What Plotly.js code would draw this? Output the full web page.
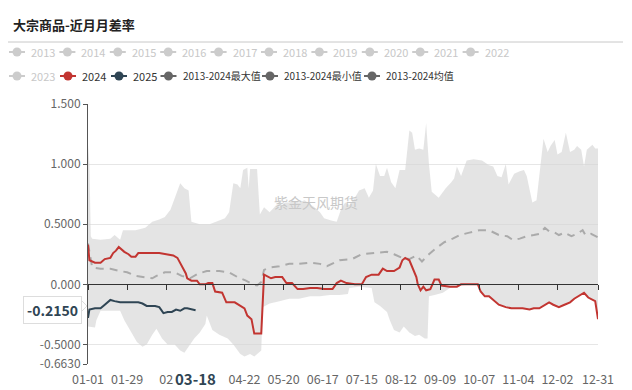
<!DOCTYPE html>
<html><head><meta charset="utf-8">
<script src="https://cdn.plot.ly/plotly-3.0.1.min.js"></script>
<style>html,body{margin:0;padding:0;background:#fff}#chart{width:632px;height:390px}</style>
</head><body><div id="chart"></div>
<script>
// ---------------- data ----------------
const YEAR = '2024-';
const maxDates = ['01-01','01-02','01-03','01-04','01-10','01-17','01-20','01-24','01-26','02-04','02-11','02-16','02-21','02-25','02-29','03-03','03-07','03-10','03-13','03-15','03-21','03-28','04-02','04-08','04-11','04-14','04-17','04-19','04-21','04-24','04-25','04-26','05-01','05-03','05-06','05-10','05-14','05-17','05-21','05-24','05-28','05-31','06-04','06-08','06-11','06-15','06-18','06-23','06-27','06-30','07-03','07-06','07-10','07-13','07-17','07-20','07-23','07-25','07-28','07-31','08-02','08-05','08-08','08-11','08-15','08-18','08-20','08-22','08-25','08-28','08-30','09-01','09-03','09-08','09-13','09-17','09-19','09-21','09-24','09-28','10-03','10-09','10-14','10-17','10-20','10-23','10-26','10-28','11-01','11-05','11-08','11-10','11-14','11-17','11-19','11-22','11-25','11-27','11-30','12-02','12-05','12-08','12-11','12-14','12-16','12-19','12-21','12-23','12-27','12-29','12-31'];
const maxVals = [1.16,1.00,0.40,0.38,0.37,0.38,0.41,0.37,0.45,0.45,0.47,0.52,0.54,0.56,0.62,0.72,0.84,0.80,0.78,0.52,0.50,0.50,0.52,0.55,0.60,0.84,0.83,0.80,0.95,0.97,0.80,0.96,0.96,0.58,0.64,0.60,0.65,0.64,0.68,0.68,0.69,0.68,0.70,0.67,0.64,0.60,0.55,0.53,0.52,0.62,0.68,0.66,0.72,0.78,0.80,0.72,0.78,1.00,0.90,0.90,0.97,0.85,0.80,0.95,0.95,1.28,1.26,1.12,1.13,1.12,1.34,1.00,0.77,0.72,0.80,0.85,0.88,0.98,0.90,1.03,1.04,1.03,0.99,0.98,0.90,0.89,1.00,0.83,0.92,0.94,0.95,0.90,0.68,0.70,0.90,1.21,1.10,1.15,1.20,1.08,1.10,1.26,1.10,1.12,1.15,1.12,0.98,1.12,1.16,1.13,1.13];

const minDates = ['01-01','01-06','01-07','01-10','01-17','01-24','01-27','02-01','02-05','02-09','02-12','02-16','02-19','02-23','02-27','03-03','03-07','03-10','03-14','03-17','03-21','03-25','03-26','03-30','04-04','04-10','04-14','04-19','04-22','04-26','04-29','05-03','05-04','05-05','05-10','05-17','05-24','05-31','06-08','06-15','06-22','06-29','07-05','07-06','07-13','07-22','07-24','07-28','08-02','08-04','08-07','08-11','08-14','08-18','08-22','08-25','08-29','08-31','09-01','09-05','09-11','09-16','09-21','09-30','10-06','10-08','10-11','10-14','10-17','10-21','10-26','10-30','11-03','11-07','11-12','11-15','11-19','11-22','11-26','11-29','12-03','12-07','12-11','12-14','12-17','12-21','12-24','12-27','12-29','12-31'];
const minVals = [-0.35,-0.36,-0.30,-0.22,-0.22,-0.22,-0.30,-0.40,-0.48,-0.52,-0.50,-0.42,-0.37,-0.45,-0.50,-0.50,-0.55,-0.57,-0.50,-0.45,-0.40,-0.33,-0.26,-0.38,-0.42,-0.45,-0.50,-0.58,-0.60,-0.58,-0.60,-0.56,-0.55,-0.19,-0.16,-0.14,-0.12,-0.12,-0.10,-0.10,-0.09,-0.09,-0.08,-0.03,-0.02,-0.03,-0.15,-0.18,-0.23,-0.30,-0.38,-0.40,-0.35,-0.40,-0.43,-0.42,-0.45,-0.45,-0.10,-0.09,-0.07,-0.03,-0.02,0.00,0.00,-0.06,-0.10,-0.10,-0.13,-0.17,-0.19,-0.20,-0.20,-0.20,-0.21,-0.20,-0.20,-0.18,-0.15,-0.17,-0.19,-0.17,-0.15,-0.12,-0.10,-0.07,-0.11,-0.13,-0.14,-0.29];

const meanDates = ['01-01','01-04','01-10','01-17','01-24','01-29','02-04','02-11','02-16','02-19','02-25','03-03','03-08','03-14','03-20','03-26','04-04','04-11','04-17','04-23','04-28','05-01','05-04','05-06','05-10','05-17','05-24','05-31','06-08','06-15','06-20','06-29','07-08','07-15','07-25','08-02','08-07','08-13','08-18','08-23','08-27','09-01','09-06','09-12','09-18','09-23','09-30','10-07','10-14','10-21','10-27','10-31','11-05','11-10','11-15','11-19','11-23','11-26','11-30','12-03','12-07','12-12','12-16','12-20','12-22','12-26','12-31'];
const meanVals = [0.34,0.14,0.13,0.13,0.11,0.10,0.07,0.06,0.05,0.07,0.10,0.10,0.07,0.05,0.09,0.11,0.11,0.10,0.06,0.03,0.00,-0.01,0.02,0.12,0.14,0.15,0.17,0.17,0.18,0.17,0.15,0.20,0.21,0.25,0.26,0.27,0.25,0.22,0.21,0.24,0.19,0.25,0.30,0.35,0.38,0.41,0.43,0.45,0.45,0.41,0.40,0.37,0.38,0.40,0.41,0.42,0.47,0.44,0.43,0.41,0.43,0.40,0.42,0.45,0.41,0.42,0.39];

const y2024Dates = ['01-01','01-02','01-06','01-10','01-13','01-17','01-19','01-21','01-23','01-25','01-27','01-30','02-01','02-04','02-06','02-14','02-21','02-26','03-02','03-05','03-07','03-09','03-11','03-12','03-15','03-19','03-21','03-25','03-27','03-30','04-01','04-06','04-09','04-15','04-19','04-22','04-24','04-27','04-29','05-04','05-06','05-09','05-11','05-14','05-19','05-22','05-26','05-30','06-03','06-08','06-13','06-18','06-24','06-27','06-30','07-04','07-10','07-15','07-18','07-22','07-27','07-30','08-02','08-07','08-11','08-13','08-15','08-18','08-20','08-23','08-24','08-26','08-28','08-30','09-02','09-05','09-08','09-10','09-16','09-21','09-24','10-06','10-08','10-11','10-14','10-17','10-21','10-26','10-30','11-03','11-07','11-12','11-15','11-19','11-22','11-26','11-29','12-03','12-07','12-11','12-14','12-17','12-21','12-24','12-27','12-29','12-31'];
const y2024Vals = [0.33,0.20,0.18,0.18,0.21,0.22,0.26,0.28,0.31,0.29,0.27,0.25,0.23,0.23,0.26,0.26,0.26,0.25,0.24,0.22,0.18,0.13,0.09,0.05,0.03,0.03,0.00,0.00,0.01,0.01,-0.06,-0.07,-0.15,-0.15,-0.18,-0.20,-0.26,-0.29,-0.41,-0.41,0.08,0.06,0.05,0.06,0.06,0.01,0.01,-0.04,-0.04,-0.03,-0.03,-0.04,-0.04,0.01,0.03,0.01,0.00,0.00,0.06,0.08,0.08,0.13,0.11,0.11,0.14,0.20,0.22,0.20,0.15,0.06,0.00,-0.05,-0.02,-0.05,-0.04,0.04,0.04,-0.01,-0.02,-0.02,0.00,0.00,-0.06,-0.10,-0.10,-0.13,-0.17,-0.19,-0.20,-0.20,-0.20,-0.21,-0.20,-0.20,-0.18,-0.15,-0.17,-0.19,-0.17,-0.15,-0.12,-0.10,-0.07,-0.11,-0.13,-0.14,-0.29];

const y2025Dates = ['01-01','01-02','01-06','01-10','01-13','01-17','01-20','01-24','01-31','02-06','02-09','02-12','02-18','02-21','02-24','02-27','03-01','03-04','03-07','03-10','03-12','03-15','03-18'];
const y2025Vals = [-0.28,-0.21,-0.20,-0.20,-0.17,-0.13,-0.14,-0.15,-0.15,-0.15,-0.16,-0.18,-0.18,-0.19,-0.24,-0.23,-0.23,-0.21,-0.22,-0.20,-0.20,-0.21,-0.215];

// the 02-26 label is cut by the highlighted 03-18 label in the original: only "02" shows
const tickDates  = ['01-01','01-29','02-26','04-22','05-20','06-17','07-15','08-12','09-09','10-07','11-04','12-02','12-31'];
const tickLabels = ['01-01','01-29','02','04-22','05-20','06-17','07-15','08-12','09-09','10-07','11-04','12-02','12-31'];
const axisTickDates = ['01-01','01-29','02-26','03-25','04-22','05-20','06-17','07-15','08-12','09-09','10-07','11-04','12-02','12-31'];
const yTickVals = [1.5, 1.0, 0.5, 0, -0.5, -0.663];
const yTickText = ['1.500','1.000','0.5000','0.000','-0.5000','-0.6630'];
const yMin = -0.663, yMax = 1.5;
const currentDate = '03-18';
const currentValue = -0.2150;

const legendRow1 = ['2013','2014','2015','2016','2017','2018','2019','2020','2021','2022'];
const legendRow2 = ['2023','2024','2025','2013-2024最大值','2013-2024最小值','2013-2024均值'];

// ---------------- layout helpers ----------------
const W = 632, H = 390, ML = 88, MR = 34, MT = 104, MB = 26;
const PW = W - ML - MR, PH = H - MT - MB;
const px = x => (x - ML) / PW;
const py = y => (H - MB - y) / PH;
const d = a => a.map(s => YEAR + s);

const FONT = 'Noto Sans CJK SC, sans-serif';
const C2024 = '#c23531', C2025 = '#2f4554', CSTAT = '#666666', CHID = '#cccccc';

const traces = [
  {x: d(maxDates), y: maxVals, type: 'scatter', mode: 'lines', name: '2013-2024最大值',
   line: {width: 0, color: CSTAT}, showlegend: false, hoverinfo: 'skip'},
  {x: d(minDates), y: minVals, type: 'scatter', mode: 'lines', name: '2013-2024最小值',
   line: {width: 0, color: CSTAT}, fill: 'tonexty', fillcolor: 'rgba(212,212,212,0.64)', showlegend: false, hoverinfo: 'skip'},
  {x: d(meanDates), y: meanVals, xaxis: 'x2', type: 'scatter', mode: 'lines', name: '2013-2024均值',
   line: {width: 2, color: '#aaaaaa', dash: '8px,6px'}, showlegend: false},
  {x: d(y2024Dates), y: y2024Vals, xaxis: 'x2', type: 'scatter', mode: 'lines', name: '2024',
   line: {width: 2, color: C2024}, showlegend: false},
  {x: d(y2025Dates), y: y2025Vals, xaxis: 'x2', type: 'scatter', mode: 'lines', name: '2025',
   line: {width: 2, color: C2025}, showlegend: false}
];

const shapes = [
  {type: 'line', xref: 'paper', yref: 'paper', x0: px(8), x1: px(623), y0: py(42), y1: py(42),
   line: {color: '#c8c8c8', width: 1}},
  // small pointer of the current-value tag
  {type: 'path', xref: 'paper', yref: 'paper', fillcolor: '#ffffff', line: {color: '#dddddd', width: 1},
   path: 'M' + px(82) + ',' + py(301) + ' L' + px(87) + ',' + py(306) + ' L' + px(82) + ',' + py(311)}
];
const annotations = [];

function legendItem(name, cx, cy, color, textColor, size) {
  shapes.push({type: 'line', xref: 'paper', yref: 'paper', x0: px(cx - 8), x1: px(cx + 8), y0: py(cy), y1: py(cy),
    line: {color: color, width: 2}});
  shapes.push({type: 'circle', xref: 'paper', yref: 'paper', x0: px(cx - 4.5), x1: px(cx + 4.5),
    y0: py(cy + 4.5), y1: py(cy - 4.5), fillcolor: color, line: {width: 0}});
  annotations.push({xref: 'paper', yref: 'paper', x: px(cx + 12), y: py(cy), xanchor: 'left', yanchor: 'middle',
    text: name, showarrow: false, font: {family: FONT, size: size, color: textColor}});
}
legendRow1.forEach((n, i) => legendItem(n, 17 + 50.4 * i, 52, CHID, '#c8c8c8', 11));
const row2X = [17, 68, 119, 168.5, 270, 372];
const row2Col = [CHID, C2024, C2025, CSTAT, CSTAT, CSTAT];
legendRow2.forEach((n, i) => legendItem(n, row2X[i], 76, row2Col[i], i === 0 ? '#c8c8c8' : '#333333', i < 3 ? 11 : 10));

annotations.push({xref: 'paper', yref: 'paper', x: px(316), y: py(190), text: '紫金天风期货', showarrow: false,
  font: {family: FONT, size: 14, color: '#c8c8c8'}});
annotations.push({xref: 'paper', yref: 'y', x: px(82), xanchor: 'right', y: currentValue, yanchor: 'middle',
  text: '<b>' + currentValue.toFixed(4) + '</b>', showarrow: false, bgcolor: '#ffffff', bordercolor: '#dddddd',
  borderwidth: 1, borderpad: 3, font: {family: FONT, size: 14, color: C2025}});
annotations.push({xref: 'x', yref: 'paper', x: YEAR + currentDate, y: py(378), yanchor: 'middle',
  text: '<b>' + currentDate + '</b>', showarrow: false,
  font: {family: FONT, size: 15, color: C2025}});

const layout = {
  width: W, height: H,
  margin: {l: ML, r: MR, t: MT, b: MB, pad: 0},
  paper_bgcolor: '#ffffff', plot_bgcolor: '#ffffff',
  showlegend: false,
  title: {text: '大宗商品-近月月差率', xref: 'container', yref: 'container', x: 13 / W, xanchor: 'left',
          y: 1 - 25 / H, yanchor: 'middle', font: {family: FONT, size: 13, weight: 700, color: '#222222'}},
  xaxis: {type: 'date', range: [YEAR + '01-01', YEAR + '12-31'], tickmode: 'array', tickvals: d(tickDates),
          ticktext: tickLabels, ticks: '', showline: false, showgrid: false, zeroline: false, ticklabelstandoff: 6,
          tickfont: {family: FONT, size: 12.5, color: '#666666'}},
  xaxis2: {type: 'date', overlaying: 'x', anchor: 'free', position: (0 - yMin) / (yMax - yMin), side: 'bottom',
           range: [YEAR + '01-01', YEAR + '12-31'], tickmode: 'array', tickvals: d(axisTickDates),
           showticklabels: false, ticks: 'outside', ticklen: 5, tickcolor: '#333333', showline: true,
           linecolor: '#333333', linewidth: 1, showgrid: false, zeroline: false},
  yaxis: {range: [yMin, yMax], tickmode: 'array', tickvals: yTickVals, ticktext: yTickText, ticks: 'outside',
          ticklen: 4, tickcolor: '#555555', showline: true, linecolor: '#555555', linewidth: 1,
          gridcolor: '#e6e6e6', zeroline: false, tickfont: {family: FONT, size: 12, color: '#666666'}},
  shapes: shapes,
  annotations: annotations
};

Plotly.newPlot('chart', traces, layout, {displayModeBar: false, staticPlot: true});
</script>
</body></html>
